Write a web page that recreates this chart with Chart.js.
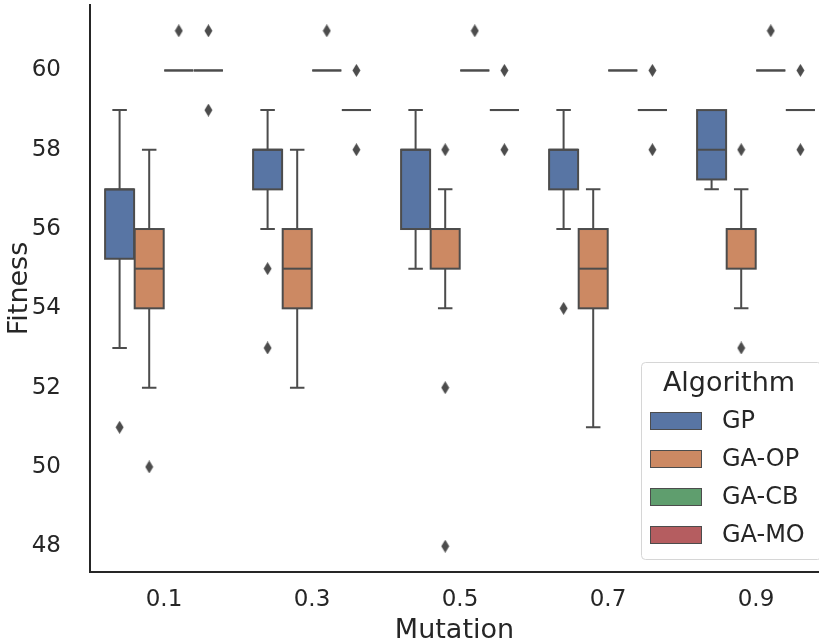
<!DOCTYPE html>
<html>
<head>
<meta charset="utf-8">
<script src="https://cdn.jsdelivr.net/npm/chart.js@4.4.0/dist/chart.umd.min.js"></script>
<style>
  html, body { margin: 0; padding: 0; background: #fff; }
  #wrap { width: 819px; height: 643px; }
</style>
</head>
<body>
<div id="wrap"><canvas id="chart" width="819" height="643"></canvas></div>
<script>
// categories on the x axis (mutation rate)
const mutations = ['0.1', '0.3', '0.5', '0.7', '0.9'];
const algorithms = ['GP', 'GA-OP', 'GA-CB', 'GA-MO'];
const yTicks = [48, 50, 52, 54, 56, 58, 60];

// box stats per mutation: [lower whisker, q1, median, q3, upper whisker]
const gpStats = [
  [53, 55.25, 57, 57, 59],
  [56, 57, 58, 58, 59],
  [55, 56, 58, 58, 59],
  [56, 57, 58, 58, 59],
  [57, 57.25, 58, 59, 59]
];
const gaOpStats = [
  [52, 54, 55, 56, 58],
  [52, 54, 55, 56, 58],
  [54, 55, 56, 56, 57],
  [51, 54, 55, 56, 57],
  [54, 55, 56, 56, 57]
];
const gaCbStats = [
  [60, 60, 60, 60, 60],
  [60, 60, 60, 60, 60],
  [60, 60, 60, 60, 60],
  [60, 60, 60, 60, 60],
  [60, 60, 60, 60, 60]
];
const gaMoStats = [
  [60, 60, 60, 60, 60],
  [59, 59, 59, 59, 59],
  [59, 59, 59, 59, 59],
  [59, 59, 59, 59, 59],
  [59, 59, 59, 59, 59]
];

// outliers per mutation
const gpOutliers = [[51], [55, 53], [], [54], []];
const gaOpOutliers = [[50], [], [58, 52, 48], [], [58, 53]];
const gaCbOutliers = [[61], [61], [61], [], [61]];
const gaMoOutliers = [[61, 59], [60, 58], [60, 58], [60, 58], [60, 58]];

const boxColors = ['#5875a4', '#cc8963', '#5f9e6e', '#b55d60'];
const lineColor = '#4c4c4c';
const axisColor = '#262626';

const allStats = [gpStats, gaOpStats, gaCbStats, gaMoStats];
const allOutliers = [gpOutliers, gaOpOutliers, gaCbOutliers, gaMoOutliers];

// seaborn layout: 0.8 of each category split among the hues
const groupWidth = 0.8;
const hueWidth = groupWidth / algorithms.length;
const boxWidth = hueWidth * 0.98;
function hueOffset(h) {
  return -groupWidth / 2 + hueWidth / 2 + h * hueWidth;
}

// thin diamond marker like matplotlib 'd'
function makeDiamond() {
  const c = document.createElement('canvas');
  c.width = 9; c.height = 13;
  const g = c.getContext('2d');
  g.fillStyle = lineColor;
  g.beginPath();
  g.moveTo(4.5, 0);
  g.lineTo(8.5, 6.5);
  g.lineTo(4.5, 13);
  g.lineTo(0.5, 6.5);
  g.closePath();
  g.fill();
  return c;
}
const diamond = makeDiamond();

const datasets = algorithms.map((name, h) => {
  const pts = [];
  allOutliers[h].forEach((vals, i) => {
    vals.forEach(v => pts.push({ x: i + hueOffset(h), y: v }));
  });
  return {
    label: name,
    data: pts,
    pointStyle: diamond,
    pointRadius: 5,
    backgroundColor: lineColor,
    borderColor: lineColor
  };
});

const boxPlugin = {
  id: 'boxes',
  beforeDatasetsDraw(chart) {
    const ctx = chart.ctx;
    const xs = chart.scales.x;
    const ys = chart.scales.y;
    ctx.save();
    ctx.lineWidth = 2;
    ctx.strokeStyle = lineColor;
    allStats.forEach((stats, h) => {
      stats.forEach((s, i) => {
        const cx = i + hueOffset(h);
        const x0 = xs.getPixelForValue(cx - boxWidth / 2);
        const x1 = xs.getPixelForValue(cx + boxWidth / 2);
        const xm = xs.getPixelForValue(cx);
        const capL = xs.getPixelForValue(cx - boxWidth / 4);
        const capR = xs.getPixelForValue(cx + boxWidth / 4);
        const yLo = ys.getPixelForValue(s[0]);
        const yQ1 = ys.getPixelForValue(s[1]);
        const yMed = ys.getPixelForValue(s[2]);
        const yQ3 = ys.getPixelForValue(s[3]);
        const yHi = ys.getPixelForValue(s[4]);
        // whiskers
        ctx.beginPath();
        if (s[0] < s[1]) {
          ctx.moveTo(xm, yQ1); ctx.lineTo(xm, yLo);
          ctx.moveTo(capL, yLo); ctx.lineTo(capR, yLo);
        }
        if (s[4] > s[3]) {
          ctx.moveTo(xm, yQ3); ctx.lineTo(xm, yHi);
          ctx.moveTo(capL, yHi); ctx.lineTo(capR, yHi);
        }
        ctx.stroke();
        // box
        ctx.fillStyle = boxColors[h];
        ctx.fillRect(x0, yQ3, x1 - x0, yQ1 - yQ3);
        ctx.strokeRect(x0, yQ3, x1 - x0, yQ1 - yQ3);
        // median
        ctx.beginPath();
        ctx.moveTo(x0, yMed); ctx.lineTo(x1, yMed);
        ctx.stroke();
      });
    });
    ctx.restore();
  },
  afterDraw(chart) {
    // legend box, lower right inside the axes
    const ctx = chart.ctx;
    const lx = 641, ly = 362, lw = 180, lh = 197;
    ctx.save();
    ctx.fillStyle = 'rgba(255,255,255,0.8)';
    ctx.strokeStyle = '#d6d6d6';
    ctx.lineWidth = 1;
    ctx.beginPath();
    ctx.roundRect(lx + 0.5, ly + 0.5, lw, lh, 4);
    ctx.fill();
    ctx.stroke();
    ctx.fillStyle = axisColor;
    ctx.font = '27px "DejaVu Sans"';
    ctx.textAlign = 'center';
    ctx.textBaseline = 'middle';
    ctx.fillText('Algorithm', 729, 384);
    ctx.font = '24px "DejaVu Sans"';
    ctx.textAlign = 'left';
    algorithms.forEach((name, h) => {
      const cy = 421 + h * 38;
      ctx.fillStyle = boxColors[h];
      ctx.fillRect(650, cy - 9, 52, 18);
      ctx.strokeStyle = lineColor;
      ctx.strokeRect(650.5, cy - 8.5, 51, 17);
      ctx.fillStyle = axisColor;
      ctx.fillText(name, 722, cy + 1);
    });
    ctx.restore();
  }
};

new Chart(document.getElementById('chart'), {
  type: 'scatter',
  data: { datasets: datasets },
  plugins: [boxPlugin],
  options: {
    responsive: false,
    animation: false,
    layout: { autoPadding: false, padding: { left: 0, right: 0, top: 5, bottom: 0 } },
    plugins: {
      legend: { display: false },
      tooltip: { enabled: false }
    },
    scales: {
      x: {
        type: 'linear',
        min: -0.5,
        max: -0.5 + 729 / 148,
        afterBuildTicks: (scale) => {
          scale.ticks = mutations.map((m, i) => ({ value: i }));
        },
        afterFit: (scale) => {
          scale.height = 71;
          scale.paddingLeft = 0;
          scale.paddingRight = 0;
        },
        grid: { display: false },
        border: { display: true, color: axisColor, width: 2 },
        ticks: {
          color: axisColor,
          font: { family: 'DejaVu Sans', size: 23 },
          padding: 6,
          maxRotation: 0,
          callback: (v, i) => mutations[i]
        },
        title: {
          display: true,
          text: 'Mutation',
          color: axisColor,
          font: { family: 'DejaVu Sans', size: 27 },
          padding: { top: 0, bottom: -4 }
        }
      },
      y: {
        type: 'linear',
        min: 47.35,
        max: 61.65,
        afterBuildTicks: (scale) => {
          scale.ticks = yTicks.map(v => ({ value: v }));
        },
        afterFit: (scale) => {
          scale.width = 90;
          scale.paddingTop = 0;
          scale.paddingBottom = 0;
        },
        grid: { display: false },
        border: { display: true, color: axisColor, width: 2 },
        ticks: {
          color: axisColor,
          font: { family: 'DejaVu Sans', size: 23 },
          padding: 21
        },
        title: {
          display: true,
          text: 'Fitness',
          color: axisColor,
          font: { family: 'DejaVu Sans', size: 27 },
          padding: { top: 4, bottom: 0 }
        }
      }
    }
  }
});
</script>
</body>
</html>
